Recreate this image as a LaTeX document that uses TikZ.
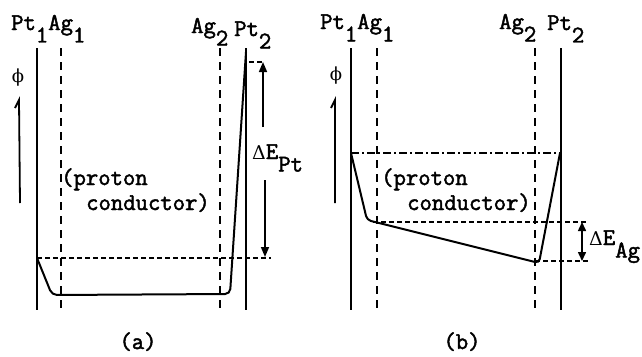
\documentclass[tikz,border=0pt]{standalone}
\usepackage{fontspec}
\setmonofont{Latin Modern Mono}[FakeBold=2,AutoFakeBold=2]
\newfontfamily\grk{DejaVu Serif}
\usetikzlibrary{arrows.meta}
\newcommand\lowr[1]{\raisebox{-12.5pt}{#1}}
\newcommand\dlt{{\fontsize{19}{19}\grk Δ}}
\begin{document}
\begin{tikzpicture}[x=1pt,y=-1pt,
  electrode/.style={line width=2pt},
  silver/.style={line width=1.9pt, dash pattern=on 8pt off 6pt},
  level/.style={line width=1.4pt, dash pattern=on 4.5pt off 3.5pt},
  dashdotline/.style={line width=1.4pt, dash pattern=on 8pt off 3pt on 2pt off 3pt},
  potential/.style={line width=2pt, rounded corners=5pt},
  lbl/.style={inner sep=0pt, anchor=base west, font=\fontsize{24}{24}\ttfamily},
  phiarrow/.style={line width=1.8pt, line join=miter},
  dearrow/.style={line width=1.5pt, -{Triangle[length=10pt,width=8pt]}},
  dedouble/.style={line width=1.5pt, {Triangle[length=9pt,width=8pt]}-{Triangle[length=9pt,width=8pt]}}
]
\useasboundingbox (0,0) rectangle (642,356);

% ---------- panel (a) ----------
\coordinate (aPt1t) at (37,48);  \coordinate (aPt1b) at (37,310);
\coordinate (aAg1t) at (61,48);  \coordinate (aAg1b) at (61,310);
\coordinate (aAg2t) at (220,48); \coordinate (aAg2b) at (220,310);
\coordinate (aPt2t) at (246,48); \coordinate (aPt2b) at (246,310);
\draw[electrode] (aPt1t) -- (aPt1b);
\draw[electrode] (aPt2t) -- (aPt2b);
\draw[silver] (aAg1t) -- (aAg1b);
\draw[silver] (aAg2t) -- (aAg2b);

\coordinate (aLvlL) at (37,258); \coordinate (aLvlR) at (271,258);
\draw[level] (aLvlL) -- (aLvlR);
\coordinate (aTopL) at (249,62); \coordinate (aTopR) at (262,62);
\draw[level] (aTopL) -- (aTopR);

\draw[potential] (37,258) -- (52,295) -- (230,294) -- (246,52);

\node[lbl] (aL1) at (11,30) {Pt\lowr{1}Ag\lowr{1}};
\node[lbl] (aL2) at (191,33) {Ag\lowr{2}};
\node[lbl] (aL3) at (234,36) {Pt\lowr{2}};
\node[inner sep=0pt, font=\fontsize{18}{18}\grk] (aphi) at (18,78) {ϕ};
\coordinate (aArrS) at (20,203); \coordinate (aArrE) at (19,100);
\draw[phiarrow] (aArrS) -- (aArrE) -- ++(-4,8);

\node[lbl] (aPr) at (61,185) {(proton};
\node[lbl] (aCo) at (86,210) {conductor)};

\node[lbl] (aDE) at (252,159) {\dlt E\lowr{Pt}};
\coordinate (aUpS) at (263,127); \coordinate (aUpE) at (263,62);
\coordinate (aDnS) at (265,180); \coordinate (aDnE) at (265,257);
\draw[dearrow] (aUpS) -- (aUpE);
\draw[dearrow] (aDnS) -- (aDnE);

\node[lbl, anchor=base] (capa) at (138,349) {(a)};

% ---------- panel (b) ----------
\coordinate (bPt1t) at (351,48);  \coordinate (bPt1b) at (351,310);
\coordinate (bAg1t) at (377,48);  \coordinate (bAg1b) at (377,310);
\coordinate (bAg2t) at (535,48);  \coordinate (bAg2b) at (535,310);
\coordinate (bPt2t) at (561,48);  \coordinate (bPt2b) at (561,310);
\draw[electrode] (bPt1t) -- (bPt1b);
\draw[electrode] (bPt2t) -- (bPt2b);
\draw[silver] (bAg1t) -- (bAg1b);
\draw[silver] (bAg2t) -- (bAg2b);

\coordinate (bDDl) at (351,153); \coordinate (bDDr) at (561,153);
\draw[dashdotline] (bDDl) -- (bDDr);
\coordinate (bUpL) at (373,222); \coordinate (bUpR) at (588,222);
\draw[level] (bUpL) -- (bUpR);
\coordinate (bLoL) at (535,261); \coordinate (bLoR) at (588,261);
\draw[level] (bLoL) -- (bLoR);

\draw[potential, rounded corners=4pt] (351,153) -- (367,220) -- (539,263) -- (560,153);

\node[lbl] (bL1) at (320,29) {Pt\lowr{1}Ag\lowr{1}};
\node[lbl] (bL2) at (499,29) {Ag\lowr{2}};
\node[lbl] (bL3) at (547,30) {Pt\lowr{2}};
\node[inner sep=0pt, font=\fontsize{18}{18}\grk] (bphi) at (336,76) {ϕ};
\coordinate (bArrS) at (335,203); \coordinate (bArrE) at (335,100);
\draw[phiarrow] (bArrS) -- (bArrE) -- ++(-4,8);

\node[lbl] (bPr) at (381,185) {(proton};
\node[lbl] (bCo) at (407,210) {conductor)};

\coordinate (bDS) at (582,222); \coordinate (bDE2) at (582,261);
\draw[dedouble] (bDS) -- (bDE2);
\node[lbl] (bDE) at (589,245) {\dlt E\lowr{Ag}};

\node[lbl, anchor=base] (capb) at (462,349) {(b)};
\end{tikzpicture}
\end{document}
